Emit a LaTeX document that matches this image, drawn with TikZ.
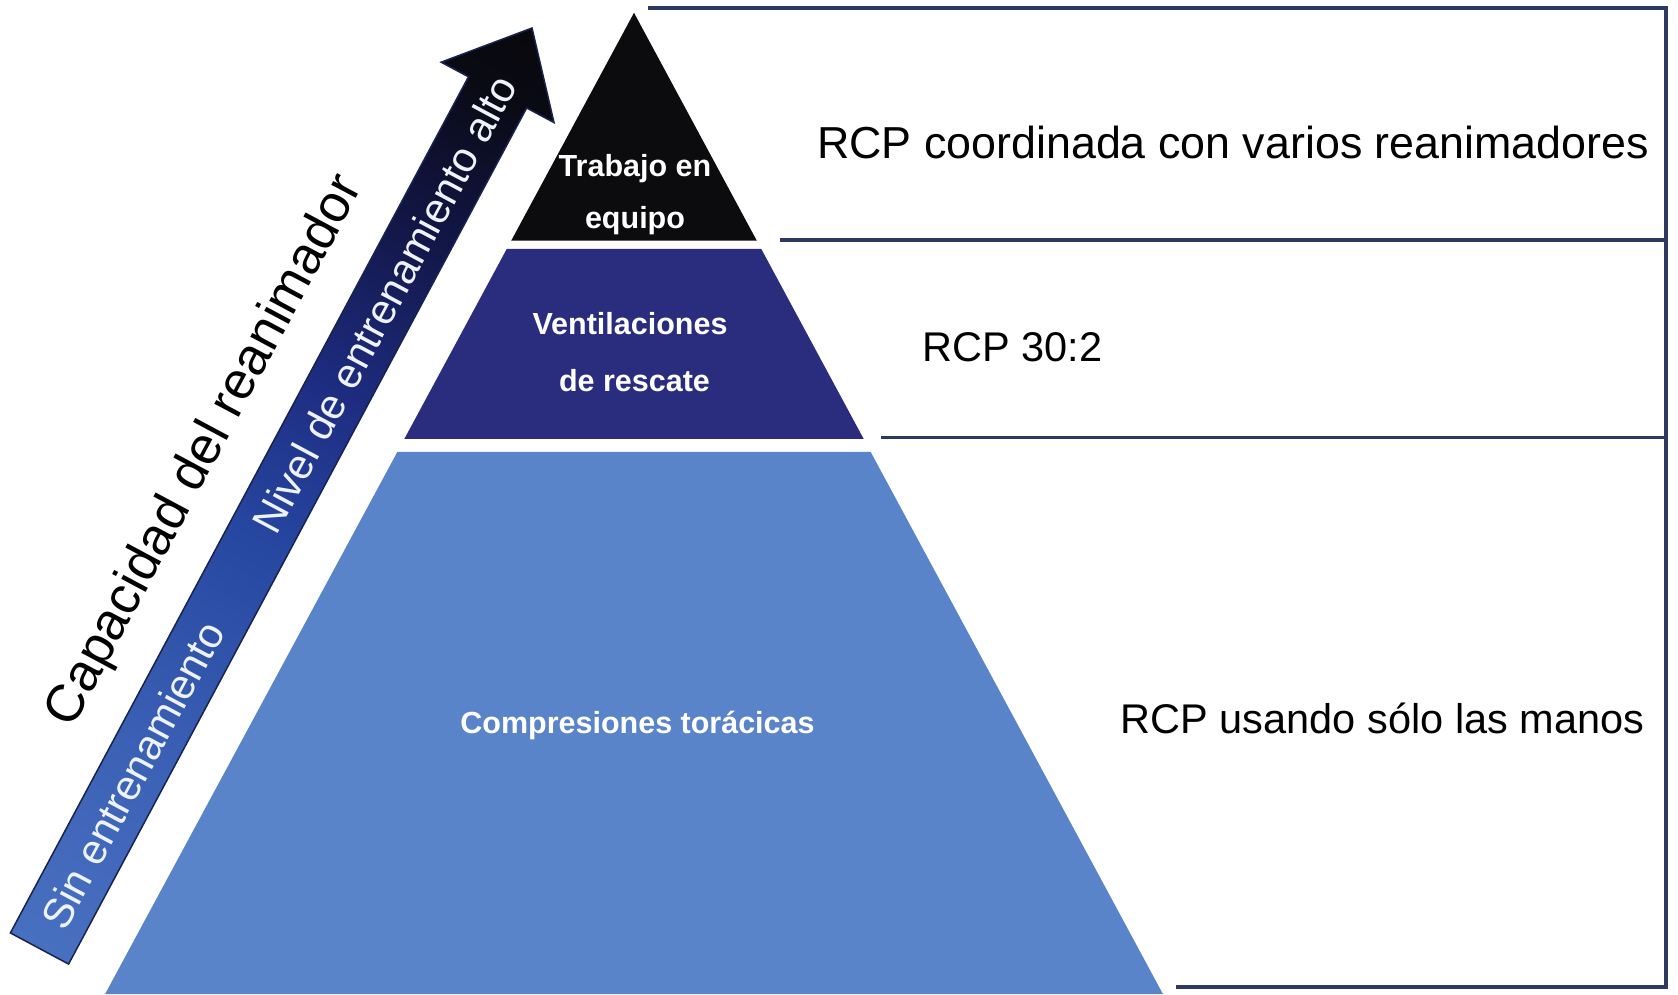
\documentclass[tikz,border=0pt]{standalone}
\usepackage{fontspec}
\setmainfont{Liberation Sans}
\definecolor{layerblack}{RGB}{12,12,14}
\definecolor{layerdark}{RGB}{42,45,125}
\definecolor{layerlight}{RGB}{90,132,202}
\definecolor{framecol}{RGB}{45,58,95}
\definecolor{bandline}{RGB}{25,35,80}
\definecolor{labelwhite}{RGB}{238,242,250}
\definecolor{bsA}{RGB}{72,112,192}
\definecolor{bsB}{RGB}{60,98,182}
\definecolor{bsC}{RGB}{38,70,160}
\definecolor{bsD}{RGB}{30,45,130}
\definecolor{bsE}{RGB}{18,22,70}
\definecolor{bsF}{RGB}{10,10,20}
\definecolor{bsG}{RGB}{8,8,12}
\pgfdeclareverticalshading{bandshade}{100bp}{color(0bp)=(bsA); color(25bp)=(bsA); color(35bp)=(bsB); color(47.5bp)=(bsC); color(55bp)=(bsD); color(64bp)=(bsE); color(71.5bp)=(bsF); color(75bp)=(bsG); color(100bp)=(bsG)}
\begin{document}
\begin{tikzpicture}[x=1pt,y=1pt,
  frameline/.style={draw=framecol, line width=3.5, line join=miter, line cap=butt},
  innerlbl/.style={text=white, inner sep=0, font=\bfseries\fontsize{30.5}{36}\selectfont},
  sidelbl/.style={text=black, inner sep=0, anchor=base west},
  bandlbl/.style={text=labelwhite, inner sep=0, font=\fontsize{42}{48}\selectfont},
  caplbl/.style={text=black, inner sep=0, font=\fontsize{52.5}{60}\selectfont}]
\useasboundingbox (0,0) rectangle (1678,994);
\fill[white] (0,0) rectangle (1678,994);

% pyramid layers
\fill[layerlight] (105.1,0) -- (397.3,542) -- (870.7,542) -- (1162.9,0) -- cycle;
\fill[layerdark] (404.3,555) -- (506.7,745) -- (761.3,745) -- (863.7,555) -- cycle;
\fill[layerblack] (511.2,753.3) -- (634,981.2) -- (756.8,753.3) -- cycle;

% layer labels
\node[innerlbl, anchor=base] (teamA) at (635,817) {Trabajo en};
\node[innerlbl, anchor=base] (teamB) at (635,765) {equipo};
\node[innerlbl, anchor=base] (ventA) at (630,659) {Ventilaciones};
\node[innerlbl, anchor=base] (ventB) at (634.5,602) {de rescate};
\node[innerlbl, anchor=base] (comp) at (637.5,261) {Compresiones torácicas};

% frame on the right
\coordinate (fTopL) at (648,986);
\coordinate (fTopR) at (1666,986);
\coordinate (fBotR) at (1666,7);
\coordinate (fBotL) at (1176,7);
\coordinate (fMidAL) at (780,754);
\coordinate (fMidAR) at (1666,754);
\coordinate (fMidBL) at (881,556.5);
\coordinate (fMidBR) at (1666,556.5);
\draw[frameline] (fTopL) -- (fTopR) -- (fBotR) -- (fBotL);
\draw[frameline] (fMidAL) -- (fMidAR);
\draw[frameline] (fMidBL) -- (fMidBR);

% right-hand texts
\node[sidelbl, font=\fontsize{44.8}{50}\selectfont] (rcpTeam) at (817,835) {RCP coordinada con varios reanimadores};
\node[sidelbl, font=\fontsize{41.5}{48}\selectfont] (rcpRatio) at (922.5,632) {RCP 30:2};
\node[sidelbl, font=\fontsize{41.5}{48}\selectfont] (rcpHands) at (1120.5,261) {RCP usando sólo las manos};

% diagonal arrow
\begin{scope}[transform canvas={shift={(39.5,45.5)},rotate=-28.15}]
\path[shade, shading=bandshade, draw=bandline, line width=1.5, line join=miter]
  (-33,0) -- (-33,971) -- (-64,971) -- (0,1044) -- (64,971) -- (33,971) -- (33,0) -- cycle;
\node[bandlbl, rotate=90] (noTrain) at (0,197) {Sin entrenamiento};
\node[bandlbl, rotate=90] (highTrain) at (0,731) {Nivel de entrenamiento alto};
\node[caplbl, rotate=90] (capacity) at (-88,517) {Capacidad del reanimador};
\end{scope}
\end{tikzpicture}
\end{document}
